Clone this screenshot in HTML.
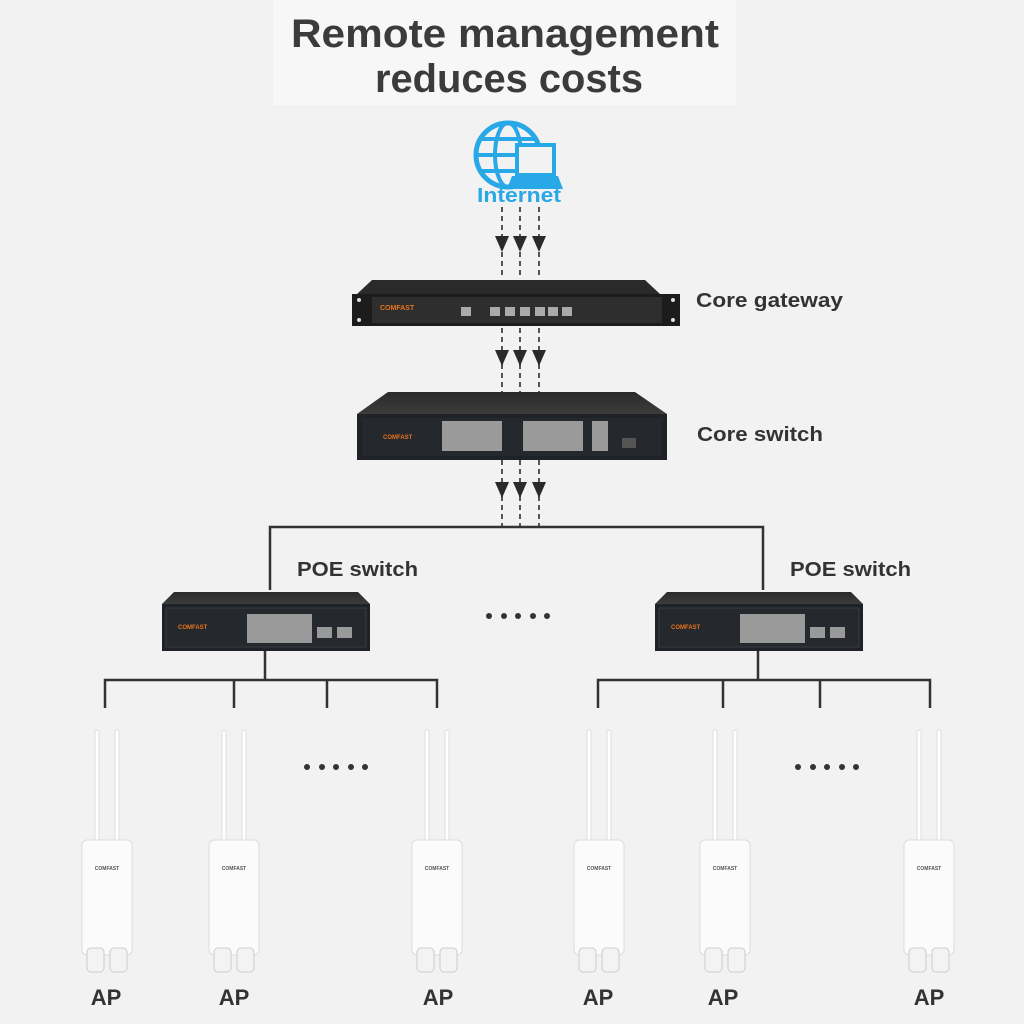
<!DOCTYPE html>
<html><head><meta charset="utf-8"><style>
html,body{margin:0;padding:0;background:#f2f2f2;}
svg{display:block;}
text{font-family:"Liberation Sans",sans-serif;}
</style></head><body>
<svg width="1024" height="1024" viewBox="0 0 1024 1024" xmlns="http://www.w3.org/2000/svg">
<defs>
<linearGradient id="top" x1="0" y1="0" x2="0" y2="1"><stop offset="0" stop-color="#2a2a2a"/><stop offset="1" stop-color="#3c3c3c"/></linearGradient>
<g id="ap">
  <rect x="-12" y="-110" width="4" height="112" rx="2" fill="#fff" stroke="#ddd"/>
  <rect x="8" y="-110" width="4" height="112" rx="2" fill="#fff" stroke="#ddd"/>
  <rect x="-25" y="0" width="50" height="115" rx="5" fill="#fbfbfb" stroke="#dcdcdc"/>
  <text x="0" y="30" font-size="5" font-weight="bold" text-anchor="middle" fill="#555">COMFAST</text>
  <rect x="-20" y="108" width="17" height="24" rx="4" fill="#f3f3f3" stroke="#ccc"/>
  <rect x="3" y="108" width="17" height="24" rx="4" fill="#f3f3f3" stroke="#ccc"/>
</g>
<g id="poe">
  <polygon points="12,0 196,0 208,12 0,12" fill="url(#top)"/>
  <rect x="0" y="12" width="208" height="47" fill="#1f2226"/>
  <rect x="4" y="16" width="200" height="39" fill="#25282c" stroke="#3a3d42"/>
  <text x="16" y="37" font-size="6" font-weight="bold" fill="#e6731c">COMFAST</text>
  <rect x="85" y="22" width="65" height="29" fill="#9a9a9a"/>
  <rect x="155" y="35" width="15" height="11" fill="#999"/>
  <rect x="175" y="35" width="15" height="11" fill="#999"/>
</g>
</defs>
<rect width="1024" height="1024" fill="#f2f2f2"/>
<rect x="273" y="0" width="463" height="105" fill="#f7f7f7"/>
<text x="505" y="47" font-size="40" font-weight="bold" fill="#3b3b3b" text-anchor="middle" textLength="428" lengthAdjust="spacingAndGlyphs">Remote management</text>
<text x="509" y="92" font-size="40" font-weight="bold" fill="#3b3b3b" text-anchor="middle" textLength="268" lengthAdjust="spacingAndGlyphs">reduces costs</text>

<!-- internet -->
<circle cx="508" cy="155" r="32" fill="none" stroke="#29a8e8" stroke-width="5"/>
<ellipse cx="508" cy="155" rx="13" ry="32" fill="none" stroke="#29a8e8" stroke-width="4"/>
<line x1="476" y1="155" x2="540" y2="155" stroke="#29a8e8" stroke-width="4"/>
<line x1="481" y1="139" x2="535" y2="139" stroke="#29a8e8" stroke-width="4"/>
<line x1="481" y1="171" x2="535" y2="171" stroke="#29a8e8" stroke-width="4"/>
<rect x="517" y="145" width="37" height="30" fill="#f2f2f2" stroke="#29a8e8" stroke-width="4"/>
<polygon points="512,176 558,176 563,189 507,189" fill="#29a8e8"/>
<text x="519" y="202" font-size="20" font-weight="bold" fill="#29a8e8" text-anchor="middle" textLength="84" lengthAdjust="spacingAndGlyphs">Internet</text>

<!-- dashed -->
<g stroke="#555" stroke-width="2" stroke-dasharray="5,4">
<line x1="502" y1="207" x2="502" y2="278"/><line x1="520" y1="207" x2="520" y2="278"/><line x1="539" y1="207" x2="539" y2="278"/>
<line x1="502" y1="328" x2="502" y2="392"/><line x1="520" y1="328" x2="520" y2="392"/><line x1="539" y1="328" x2="539" y2="392"/>
<line x1="502" y1="460" x2="502" y2="527"/><line x1="520" y1="460" x2="520" y2="527"/><line x1="539" y1="460" x2="539" y2="527"/>
</g>
<g fill="#2a2a2a">
<polygon points="495,236 509,236 502,252"/><polygon points="513,236 527,236 520,252"/><polygon points="532,236 546,236 539,252"/>
<polygon points="495,350 509,350 502,366"/><polygon points="513,350 527,350 520,366"/><polygon points="532,350 546,350 539,366"/>
<polygon points="495,482 509,482 502,498"/><polygon points="513,482 527,482 520,498"/><polygon points="532,482 546,482 539,498"/>
</g>

<!-- gateway -->
<polygon points="372,280 645,280 660,294 357,294" fill="#2a2a2a"/>
<rect x="352" y="294" width="328" height="32" fill="#1c1c1c"/>
<rect x="372" y="297" width="290" height="26" fill="#2e2e2e"/>
<circle cx="359" cy="300" r="2" fill="#ddd"/><circle cx="359" cy="320" r="2" fill="#ddd"/>
<circle cx="673" cy="300" r="2" fill="#ddd"/><circle cx="673" cy="320" r="2" fill="#ddd"/>
<text x="380" y="310" font-size="7" font-weight="bold" fill="#e6731c">COMFAST</text>
<g fill="#aaa"><rect x="461" y="307" width="10" height="9"/><rect x="490" y="307" width="10" height="9"/><rect x="505" y="307" width="10" height="9"/><rect x="520" y="307" width="10" height="9"/><rect x="535" y="307" width="10" height="9"/><rect x="548" y="307" width="10" height="9"/><rect x="562" y="307" width="10" height="9"/></g>
<text x="696" y="307" font-size="20" font-weight="bold" fill="#333" textLength="147" lengthAdjust="spacingAndGlyphs">Core gateway</text>

<!-- core switch -->
<polygon points="388,392 635,392 667,414 357,414" fill="url(#top)"/>
<rect x="357" y="414" width="310" height="46" fill="#1f2226"/>
<rect x="362" y="418" width="300" height="38" fill="#25282c"/>
<text x="383" y="439" font-size="6" font-weight="bold" fill="#e6731c">COMFAST</text>
<rect x="442" y="421" width="60" height="30" fill="#9a9a9a"/>
<rect x="523" y="421" width="60" height="30" fill="#9a9a9a"/>
<rect x="592" y="421" width="16" height="30" fill="#9a9a9a"/>
<rect x="622" y="438" width="14" height="10" fill="#555"/>
<text x="697" y="441" font-size="20" font-weight="bold" fill="#333" textLength="126" lengthAdjust="spacingAndGlyphs">Core switch</text>

<!-- tree lines -->
<g stroke="#333" stroke-width="2.5" fill="none">
<polyline points="270,590 270,527 763,527 763,590"/>
<line x1="265" y1="651" x2="265" y2="680"/>
<polyline points="105,708 105,680 437,680 437,708"/>
<line x1="234" y1="680" x2="234" y2="708"/><line x1="327" y1="680" x2="327" y2="708"/>
<line x1="758" y1="651" x2="758" y2="680"/>
<polyline points="598,708 598,680 930,680 930,708"/>
<line x1="723" y1="680" x2="723" y2="708"/><line x1="820" y1="680" x2="820" y2="708"/>
</g>
<text x="297" y="576" font-size="20" font-weight="bold" fill="#333" textLength="121" lengthAdjust="spacingAndGlyphs">POE switch</text>
<text x="790" y="576" font-size="20" font-weight="bold" fill="#333" textLength="121" lengthAdjust="spacingAndGlyphs">POE switch</text>
<use href="#poe" x="162" y="592"/>
<use href="#poe" x="655" y="592"/>
<g fill="#333"><circle cx="489" cy="616" r="3"/><circle cx="504" cy="616" r="3"/><circle cx="518" cy="616" r="3"/><circle cx="533" cy="616" r="3"/><circle cx="547" cy="616" r="3"/></g>
<g fill="#333"><circle cx="307" cy="767" r="3"/><circle cx="322" cy="767" r="3"/><circle cx="336" cy="767" r="3"/><circle cx="351" cy="767" r="3"/><circle cx="365" cy="767" r="3"/></g>
<g fill="#333"><circle cx="798" cy="767" r="3"/><circle cx="813" cy="767" r="3"/><circle cx="827" cy="767" r="3"/><circle cx="842" cy="767" r="3"/><circle cx="856" cy="767" r="3"/></g>

<!-- APs -->
<use href="#ap" x="107" y="840"/><use href="#ap" x="234" y="840"/><use href="#ap" x="437" y="840"/>
<use href="#ap" x="599" y="840"/><use href="#ap" x="725" y="840"/><use href="#ap" x="929" y="840"/>
<g font-size="22" font-weight="bold" fill="#333" text-anchor="middle">
<text x="106" y="1005">AP</text><text x="234" y="1005">AP</text><text x="438" y="1005">AP</text>
<text x="598" y="1005">AP</text><text x="723" y="1005">AP</text><text x="929" y="1005">AP</text>
</g>
</svg>
</body></html>
